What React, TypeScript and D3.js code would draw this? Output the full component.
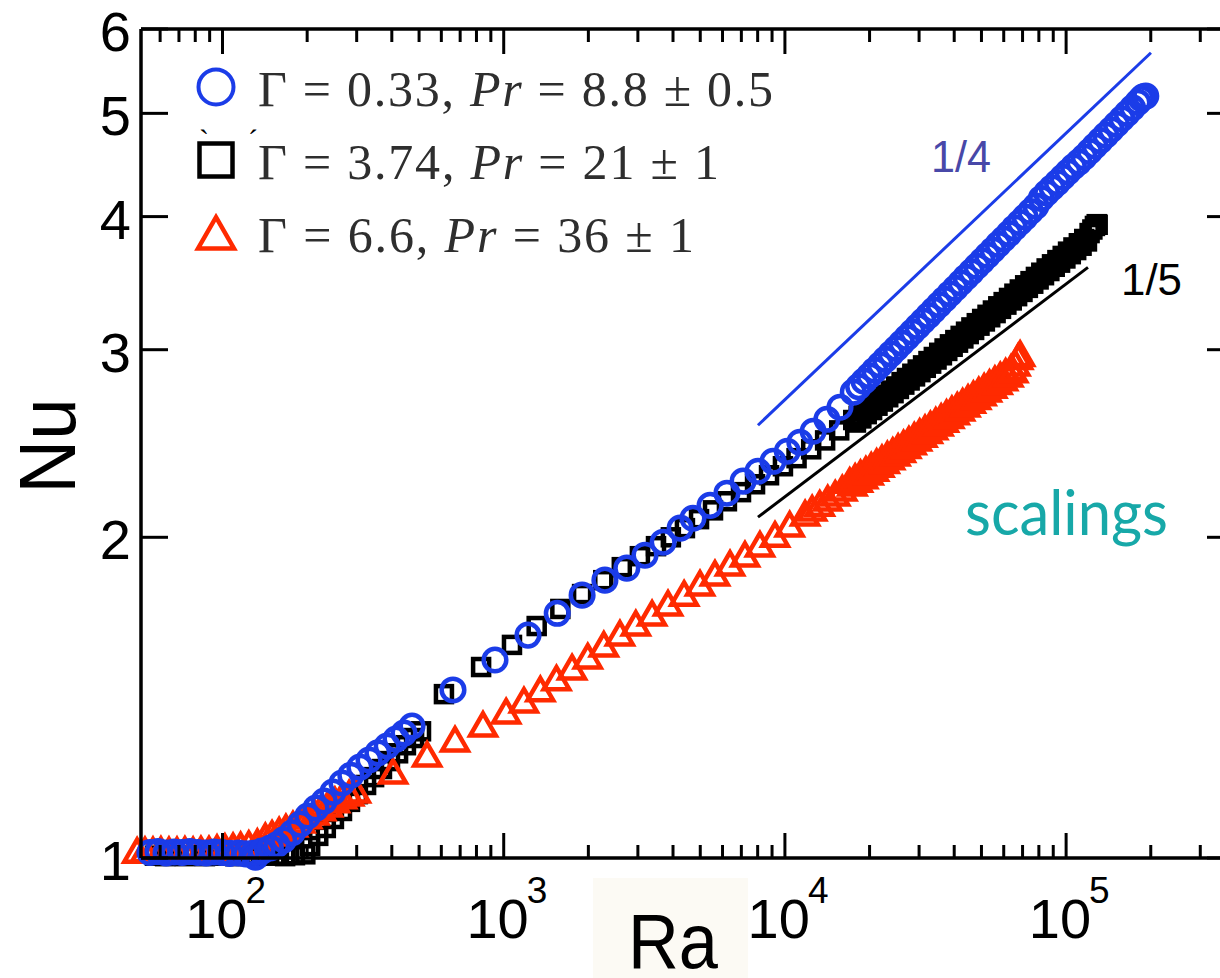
import React from 'react';
import * as d3 from 'd3';

const W = 1220, H = 978;

// Γ = 0.33 (blue circles)
const blueRa = [
  55.2, 59.0, 63.0, 67.2, 71.8, 76.6, 81.8, 87.4, 93.3, 99.6, 106, 114, 121, 129, 131,
  138, 148, 156, 165, 177, 189, 201, 215, 230, 247, 266, 286, 308, 332, 357, 385, 414, 442, 472,
  660, 931, 1220, 1550, 1900, 2290, 2740, 3180, 3690, 4240, 4710, 5420, 6220, 7100, 8020, 9070, 10200, 11300, 12600, 14100, 15700,
  17500, 18290, 19110, 19970, 20870, 21810, 22790, 23810, 24880, 26000, 27170, 28390, 29670, 31000, 32400, 33850, 35380, 36970,
  38630, 40370, 42170, 44070, 46050, 48130, 50290, 52550, 54920, 57390, 59970, 62670, 65490, 68440, 71520, 74730, 78100, 81610,
  85280, 89110, 93120, 97250, 101600, 106200, 111000, 116000, 121200, 126600, 132300, 138300, 144500, 151000, 157800, 164900,
  172300, 180000, 185000, 188100, 192000
];
const blueNu = [
  1.012, 1.014, 1.011, 1.013, 1.012, 1.014, 1.012, 1.011, 1.013, 1.012, 1.010, 1.011, 1.009, 1.010, 1.002,
  1.015, 1.022, 1.029, 1.040, 1.056, 1.076, 1.095, 1.114, 1.131, 1.153, 1.176, 1.196, 1.217, 1.236, 1.255, 1.274, 1.293, 1.310, 1.330,
  1.438, 1.534, 1.619, 1.697, 1.765, 1.823, 1.871, 1.924, 1.979, 2.040, 2.084, 2.143, 2.200, 2.258, 2.307, 2.357, 2.409, 2.456, 2.515, 2.581, 2.649,
  2.737, 2.770, 2.803, 2.836, 2.870, 2.904, 2.938, 2.973, 3.008, 3.044, 3.080, 3.117, 3.154, 3.192, 3.229, 3.268, 3.307, 3.346,
  3.386, 3.426, 3.467, 3.509, 3.550, 3.593, 3.635, 3.679, 3.722, 3.767, 3.811, 3.856, 3.903, 3.949, 3.996, 4.044, 4.092, 4.160,
  4.210, 4.258, 4.305, 4.355, 4.405, 4.455, 4.500, 4.550, 4.604, 4.659, 4.714, 4.770, 4.826, 4.884, 4.942, 5.000,
  5.060, 5.120, 5.160, 5.181, 5.190
];

// Γ = 3.74 (black squares)
const blackRa = [
  57.5, 62.5, 67.8, 73.5, 79.8, 86.6, 94.0, 102, 111, 120, 131, 142, 154, 167, 181, 197,
  205, 219, 233, 249, 266, 284, 303, 324, 346, 369, 394, 421, 449, 480, 508,
  613, 831, 1070, 1310, 1590, 1900, 2260, 2630, 3050, 3480, 3930, 4410, 4950, 5550, 6220, 6980, 7830, 8780, 9840, 11000, 12400, 13900, 15600,
  17500, 18290, 19110, 19970, 20870, 21810, 22790, 23810, 24880, 26000, 27170, 28390, 29670, 31000, 32400, 33850, 35380, 36970,
  38630, 40370, 42170, 44070, 46050, 48130, 50290, 52550, 54920, 57390, 59970, 62670, 65490, 68440, 71520, 74730, 78100, 81610,
  85280, 89110, 93120, 97250, 101600, 106200, 111000, 116000, 121200, 124000, 126600, 128500, 129500
];
const blackNu = [
  1.005, 1.004, 1.006, 1.004, 1.005, 1.004, 1.006, 1.005, 1.004, 1.005, 1.004, 1.006, 1.005, 1.004, 1.006, 1.008,
  1.026, 1.049, 1.067, 1.088, 1.107, 1.129, 1.148, 1.171, 1.191, 1.212, 1.233, 1.254, 1.276, 1.296, 1.315,
  1.425, 1.511, 1.585, 1.651, 1.713, 1.769, 1.823, 1.875, 1.920, 1.962, 2.000, 2.040, 2.080, 2.120, 2.162, 2.205, 2.243, 2.287, 2.332, 2.373, 2.419, 2.466, 2.520,
  2.577, 2.600, 2.624, 2.648, 2.672, 2.697, 2.721, 2.746, 2.771, 2.797, 2.822, 2.848, 2.874, 2.900, 2.927, 2.953, 2.980, 3.008,
  3.035, 3.063, 3.091, 3.119, 3.148, 3.177, 3.206, 3.235, 3.265, 3.295, 3.325, 3.355, 3.386, 3.417, 3.448, 3.479, 3.511, 3.543,
  3.576, 3.608, 3.641, 3.674, 3.708, 3.742, 3.776, 3.811, 3.860, 3.890, 3.920, 3.935, 3.930
];
// second (lower) sweep of the Γ = 3.74 run at high Ra
const blackSweepRa = [
  17890, 18700, 19540, 20420, 21340, 22300, 23300, 24340, 25430, 26580, 27770, 29020, 30330, 31690, 33120, 34610,
  36170, 37790, 39490, 41260, 43110, 45050, 47080, 49200, 51410, 53720, 56140, 58670, 61310, 64070, 66950, 69960,
  73110, 76400, 79840, 83430, 87180, 91100, 95170, 99400, 103900, 108600, 113500, 118600
];
const blackSweepNu = [
  2.563, 2.586, 2.610, 2.633, 2.658, 2.682, 2.707, 2.731, 2.756, 2.782, 2.807, 2.832, 2.858, 2.885, 2.911, 2.937,
  2.964, 2.992, 3.019, 3.046, 3.074, 3.103, 3.131, 3.160, 3.189, 3.218, 3.247, 3.277, 3.307, 3.337, 3.368, 3.399,
  3.429, 3.460, 3.492, 3.524, 3.556, 3.589, 3.621, 3.654, 3.688, 3.721, 3.756, 3.791
];

// Γ = 6.6 (red triangles)
const redRa = [
  49.7, 53.0, 56.6, 60.4, 64.5, 68.9, 73.5, 78.6, 83.8, 89.5, 95.6, 102, 109, 116, 124, 133,
  142, 150, 159, 168, 178, 189, 200, 212, 224, 237, 251, 266, 282, 298,
  404, 534, 671, 844, 1020, 1180, 1350, 1540, 1750, 1990, 2270, 2590, 2950, 3370, 3840, 4380, 4990, 5640, 6380, 7210, 8150, 9220, 10400, 11800, 12500, 13300, 14200, 15100, 16000,
  17000, 17770, 18570, 19400, 20280, 21190, 22140, 23140, 24180, 25270, 26410, 27600, 28840, 30140, 31500, 32910,
  34390, 35940, 37560, 39250, 41020, 42860, 44790, 46810, 48910, 51110, 53410, 55810, 58320, 60950, 63690, 66000, 67500, 68600
];
const redNu = [
  1.008, 1.009, 1.009, 1.010, 1.009, 1.009, 1.010, 1.009, 1.011, 1.011, 1.014, 1.016, 1.018, 1.020, 1.023, 1.027,
  1.040, 1.046, 1.053, 1.060, 1.067, 1.076, 1.086, 1.095, 1.105, 1.114, 1.124, 1.134, 1.141, 1.148,
  1.196, 1.241, 1.282, 1.324, 1.362, 1.395, 1.429, 1.463, 1.498, 1.534, 1.574, 1.612, 1.647, 1.683, 1.720, 1.757, 1.796, 1.835, 1.875, 1.912, 1.954, 1.996, 2.040, 2.089, 2.112, 2.134, 2.158, 2.181, 2.205,
  2.242, 2.261, 2.279, 2.297, 2.316, 2.335, 2.354, 2.373, 2.392, 2.412, 2.431, 2.451, 2.472, 2.492, 2.512, 2.533,
  2.553, 2.574, 2.596, 2.617, 2.638, 2.660, 2.682, 2.703, 2.725, 2.748, 2.770, 2.793, 2.816, 2.838, 2.862, 2.890, 2.930, 2.950
];
// second (lower) sweep of the Γ = 6.6 run at high Ra
const redSweepRa = [
  17380, 18170, 18980, 19840, 20730, 21660, 22630, 23650, 24720, 25830, 27000, 28210, 29480, 30810, 32200, 33640,
  35160, 36740, 38400, 40130, 41930, 43810, 45790, 47850, 50000, 52250, 54600, 57050, 59620, 62310, 64840
];
const redSweepNu = [
  2.229, 2.247, 2.265, 2.283, 2.302, 2.321, 2.340, 2.359, 2.378, 2.397, 2.417, 2.437, 2.457, 2.477, 2.497, 2.518,
  2.538, 2.559, 2.580, 2.601, 2.622, 2.644, 2.666, 2.687, 2.709, 2.731, 2.754, 2.776, 2.799, 2.822, 2.847
];

// scaling guide lines
const quarterRa = [8020, 200300];
const quarterNu = [2.548, 5.70];
const fifthRa = [8020, 119600];
const fifthNu = [2.089, 3.584];

const yTicks = [1, 2, 3, 4, 5, 6];
const legendPre = ['Γ = 0.33, ', 'Γ = 3.74, ', 'Γ = 6.6, '];
const legendPost = [' = 8.8 ± 0.5', ' = 21 ± 1', ' = 36 ± 1'];
const legendWidth = [515, 461, 436];

const BLUE = '#1b3ce8';
const RED = '#ff2a00';
const SANS = "'Liberation Sans', Arial, sans-serif";
const SERIF = "'Liberation Serif', 'Times New Roman', serif";

export default function App() {
  const x = d3.scaleLog().domain([51.3, 3.954e5]).range([141, 1234]);
  const y = d3.scaleLog().domain([1, 6]).range([858, 29]);

  const blue = d3.zip(blueRa, blueNu);
  const black = d3.zip(blackRa, blackNu).concat(d3.zip(blackSweepRa, blackSweepNu));
  const red = d3.zip(redRa, redNu).concat(d3.zip(redSweepRa, redSweepNu));

  const tri = d3.symbol().type(d3.symbolTriangle).size(285)() as string;
  const triBig = d3.symbol().type(d3.symbolTriangle).size(560)() as string;

  const line = d3.line<number[]>().x(d => x(d[0])).y(d => y(d[1]));

  const xt = x.ticks();
  const isMajor = (t: number) => Math.abs(Math.log10(t) - Math.round(Math.log10(t))) < 1e-9;
  const [x0, x1] = x.range();
  const [yb, yt] = y.range();

  return (
    <svg width={W} height={H} style={{ position: 'absolute', left: 0, top: 0, background: '#fff' }}>
      <rect x={593} y={878} width={155} height={100} fill="#fcfaf4" />

      {/* black squares */}
      <g fill="none" stroke="#000" strokeWidth={4.5}>
        {black.map((d, i) => (
          <rect key={i} x={x(d[0]) - 8} y={y(d[1]) - 8} width={16} height={16} />
        ))}
      </g>
      {/* red triangles */}
      <g fill="none" stroke={RED} strokeWidth={4.5}>
        {red.map((d, i) => (
          <path key={i} d={tri} transform={`translate(${x(d[0])},${y(d[1])})`} />
        ))}
      </g>
      {/* blue circles */}
      <g fill="none" stroke={BLUE} strokeWidth={4.5}>
        {blue.map((d, i) => (
          <circle key={i} cx={x(d[0])} cy={y(d[1])} r={11.3} />
        ))}
      </g>

      {/* scaling lines */}
      <path d={line(d3.zip(quarterRa, quarterNu)) as string} stroke={BLUE} strokeWidth={3} fill="none" />
      <path d={line(d3.zip(fifthRa, fifthNu)) as string} stroke="#000" strokeWidth={3} fill="none" />

      {/* frame */}
      <g stroke="#000" strokeWidth={3.5} fill="none">
        <line x1={x0} x2={x1} y1={yb} y2={yb} />
        <line x1={x0} x2={x1} y1={yt} y2={yt} />
        <line x1={x0} x2={x0} y1={yt} y2={yb} />
        <line x1={x1} x2={x1} y1={yt} y2={yb} />
      </g>
      <g stroke="#000" strokeWidth={3}>
        {xt.map((t, i) => {
          const len = isMajor(t) ? 25 : 13;
          return (
            <g key={i}>
              <line x1={x(t)} x2={x(t)} y1={yb} y2={yb - len} />
              <line x1={x(t)} x2={x(t)} y1={yt} y2={yt + len} />
            </g>
          );
        })}
        {yTicks.map((t, i) => (
          <g key={i}>
            <line x1={x0} x2={x0 + 27} y1={y(t)} y2={y(t)} />
            <line x1={x1} x2={x1 - 27} y1={y(t)} y2={y(t)} />
          </g>
        ))}
      </g>

      {/* tick labels */}
      <g fontFamily={SANS} fill="#000">
        {yTicks.map((t, i) => (
          <text key={i} x={131} y={y(t) + 22} fontSize={56} textAnchor="end">{t}</text>
        ))}
        {xt.filter(isMajor).map((t, i) => (
          <g key={i}>
            <text x={x(t) + 25} y={938} fontSize={56} textAnchor="end">10</text>
            <text x={x(t) + 23} y={903} fontSize={37}>{Math.round(Math.log10(t))}</text>
          </g>
        ))}
      </g>

      {/* axis titles */}
      <text x={628} y={968} fontFamily={SANS} fontSize={78} textLength={90} lengthAdjust="spacingAndGlyphs">Ra</text>
      <text transform="translate(75,446) rotate(-90)" fontFamily={SANS} fontSize={80} textAnchor="middle"
        textLength={95} lengthAdjust="spacingAndGlyphs">Nu</text>

      {/* annotations */}
      <text x={931} y={172} fontFamily={SANS} fontSize={44} fill="#4848a8" textLength={60} lengthAdjust="spacingAndGlyphs">1/4</text>
      <text x={1121} y={295} fontFamily={SANS} fontSize={44} fill="#000" textLength={61} lengthAdjust="spacingAndGlyphs">1/5</text>
      <text x={965} y={535} fontFamily="Lato, 'Open Sans', sans-serif" fontSize={62} fill="#17a8a8" textLength={203} lengthAdjust="spacingAndGlyphs">scalings</text>

      {/* legend */}
      <circle cx={216} cy={87} r={17.5} fill="none" stroke={BLUE} strokeWidth={4} />
      <rect x={199.5} y={143.5} width={33} height={33} fill="none" stroke="#000" strokeWidth={4.5} />
      <path d={triBig} transform="translate(216,238)" fill="none" stroke={RED} strokeWidth={4.5} />
      <text x={199} y={150} fontFamily={SERIF} fontSize={30}>`</text>
      <text x={248} y={150} fontFamily={SERIF} fontSize={30}>´</text>
      {legendPre.map((p, i) => (
        <text key={i} x={258} y={106 + i * 73} fontFamily={SERIF} fontSize={50} fill="#2e2e2e"
          textLength={legendWidth[i]} lengthAdjust="spacing">
          {p}<tspan fontStyle="italic">Pr</tspan>{legendPost[i]}
        </text>
      ))}
    </svg>
  );
}
